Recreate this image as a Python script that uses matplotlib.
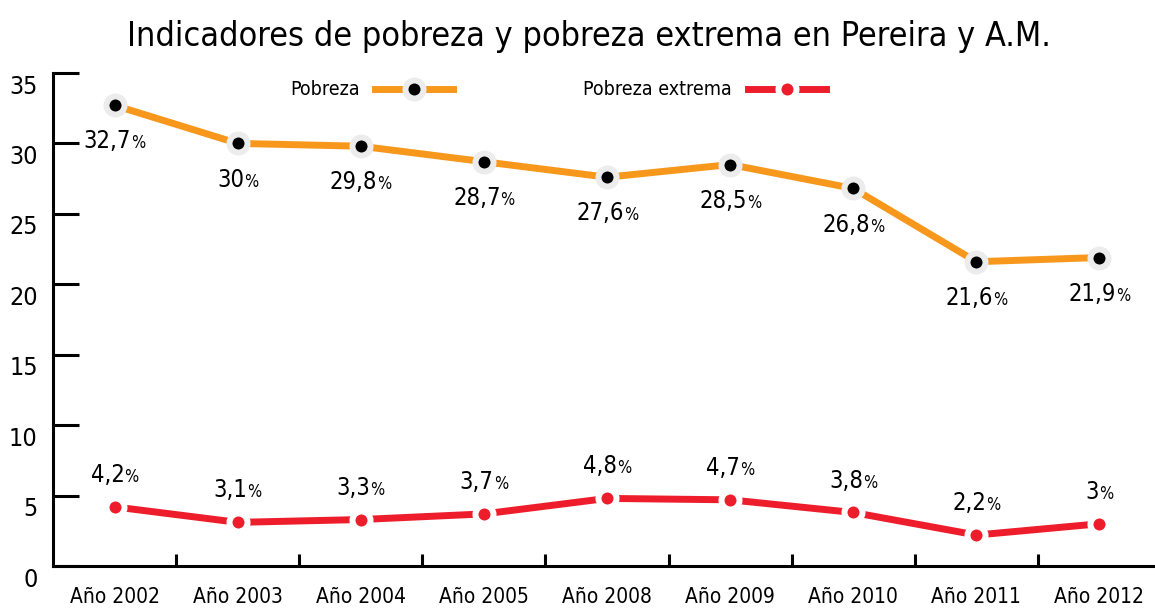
import matplotlib
matplotlib.use("Agg")
import matplotlib.pyplot as plt
from matplotlib.lines import Line2D
from matplotlib.offsetbox import TextArea, HPacker, AnnotationBbox
from matplotlib.transforms import ScaledTranslation

plt.rcParams['font.family'] = ['DejaVu Sans']
plt.rcParams['font.stretch'] = 'condensed'

years = ["Año 2002", "Año 2003", "Año 2004", "Año 2005", "Año 2008",
         "Año 2009", "Año 2010", "Año 2011", "Año 2012"]
pobreza = [32.7, 30, 29.8, 28.7, 27.6, 28.5, 26.8, 21.6, 21.9]
extrema = [4.2, 3.1, 3.3, 3.7, 4.8, 4.7, 3.8, 2.2, 3]

ORANGE = "#F7981D"
RED = "#EE1D2B"

fig = plt.figure(figsize=(11.55, 6.11), dpi=100)
ax = fig.add_axes([0.0459, 0.0736, 0.954, 0.807])
x = list(range(len(years)))

ax.plot(x, pobreza, color=ORANGE, lw=5, zorder=2)
ax.plot(x, pobreza, ls='none', marker='o', ms=13, mfc='black', mec='#ececec', mew=4.3, zorder=3)
ax.plot(x, extrema, color=RED, lw=5, zorder=2)
ax.plot(x, extrema, ls='none', marker='o', ms=13, mfc=RED, mec='white', mew=4.3, zorder=3)


def label(xi, v, dy):
    num = f"{v:g}".replace('.', ',')
    box = HPacker(children=[TextArea(num, textprops=dict(fontsize=17)),
                            TextArea('%', textprops=dict(fontsize=12))],
                  align='baseline', pad=0, sep=0)
    ab = AnnotationBbox(box, (xi, v), xybox=(0, dy), xycoords='data',
                        boxcoords='offset points', frameon=False,
                        box_alignment=(0.5, 0.5), zorder=4)
    ax.add_artist(ab)


for xi, v in zip(x, pobreza):
    label(xi, v, -26)
for xi, v in zip(x, extrema):
    label(xi, v, 23)

ax.set_xlim(-0.5, 8.45)
ax.set_ylim(0, 35)
ax.set_yticks(range(0, 36, 5))
ax.set_xticks(x)
ax.set_xticklabels(years, fontsize=15)
ax.set_xticks([i + 0.5 for i in x[:-1]], minor=True)
ax.tick_params(axis='x', which='major', length=0, pad=15)
ax.tick_params(axis='x', which='minor', direction='in', length=9, width=2.2)
ax.tick_params(axis='y', direction='in', length=19, width=2.2, labelsize=18, pad=11)
for t in ax.get_yticklabels():
    t.set_transform(t.get_transform() + ScaledTranslation(0, -8 / 72, fig.dpi_scale_trans))

for s in ['top', 'right']:
    ax.spines[s].set_visible(False)
for s in ['left', 'bottom']:
    ax.spines[s].set_linewidth(2.2)

fig.suptitle("Indicadores de pobreza y pobreza extrema en Pereira y A.M.",
             fontsize=24.5, x=0.51, y=0.94, va='center')

handles = [
    Line2D([], [], color=ORANGE, lw=5, marker='o', ms=13, mfc='black', mec='#ececec', mew=4.3),
    Line2D([], [], color=RED, lw=5, marker='o', ms=13, mfc=RED, mec='white', mew=4.3),
]
fig.legend(handles, ["Pobreza", "Pobreza extrema"], ncol=2, markerfirst=False,
           frameon=False, numpoints=1, handlelength=4.0, handletextpad=0.8,
           columnspacing=6.7, fontsize=14, loc='center', bbox_to_anchor=(0.483, 0.853))

fig.savefig("out.png", dpi=100)
